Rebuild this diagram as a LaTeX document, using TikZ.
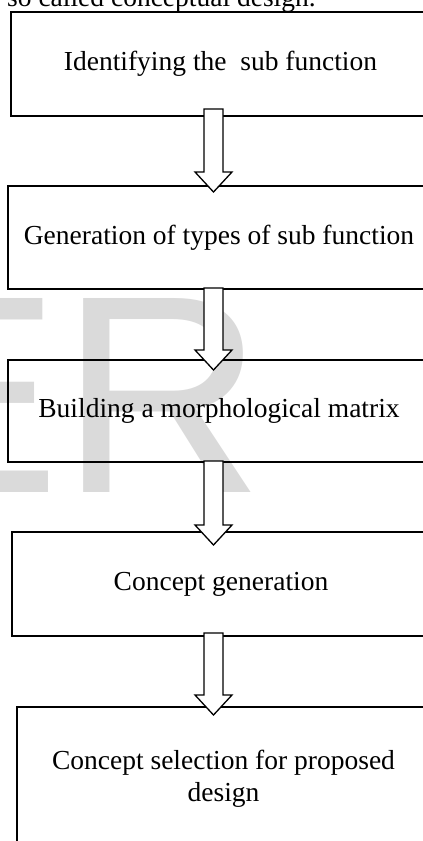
\documentclass[tikz,border=0pt]{standalone}
\usepackage{fontspec}
\setmainfont{Liberation Serif}
\newfontfamily\wmfont{Liberation Sans}
\usepackage{xcolor}
\definecolor{wmgray}{HTML}{DADADA}
\usepackage{tikz}
\usetikzlibrary{calc}

\begin{document}
\begin{tikzpicture}[x=1pt,y=-1pt,font=\fontsize{27.5}{32}\selectfont,
  b/.style={rectangle,draw=black,line width=2.4pt,align=center,anchor=north west,inner sep=0pt,outer sep=0pt},
  blk/.style={draw=black,line width=1.3pt,fill=white,line join=miter}]
\useasboundingbox (0,0) rectangle (423,841);
% watermark and cut-off text line
\node[anchor=base west,inner sep=0pt,text=wmgray,font=\fontsize{282}{282}\wmfont] (wm) at (-128,492) {ER};
\node[anchor=base west,inner sep=0pt] (intro) at (7,6.5) {so called conceptual design.};
% steps
\node[b,minimum width=419,minimum height=104] (s1) at (11,12) {Identifying the\ \ sub function};
\node[b,minimum width=422,minimum height=103] (s2) at (8,186) {Generation of types of sub function};
\node[b,minimum width=422,minimum height=102] (s3) at (8,360) {Building a morphological matrix};
\node[b,minimum width=418,minimum height=104] (s4) at (12,532) {Concept generation};
\node[b,minimum width=413,minimum height=144] (s5) at (17,707) {Concept selection for proposed\\design};
% hollow arrows
\coordinate (ax) at (213.5,0);
\foreach \a/\b/\t/\e in {s1/s2/7/6,s2/s3/1/10,s3/s4/1/13,s4/s5/3/8}
  \draw[blk] ($(\a.south -| ax)+(-9.5,-\t)$) -- ($(\b.north -| ax)+(-9.5,\e-20)$)
    -- ($(\b.north -| ax)+(-18.5,\e-20)$) -- ($(\b.north -| ax)+(0,\e)$)
    -- ($(\b.north -| ax)+(18.5,\e-20)$) -- ($(\b.north -| ax)+(9.5,\e-20)$)
    -- ($(\a.south -| ax)+(9.5,-\t)$) -- cycle;
\end{tikzpicture}
\end{document}
